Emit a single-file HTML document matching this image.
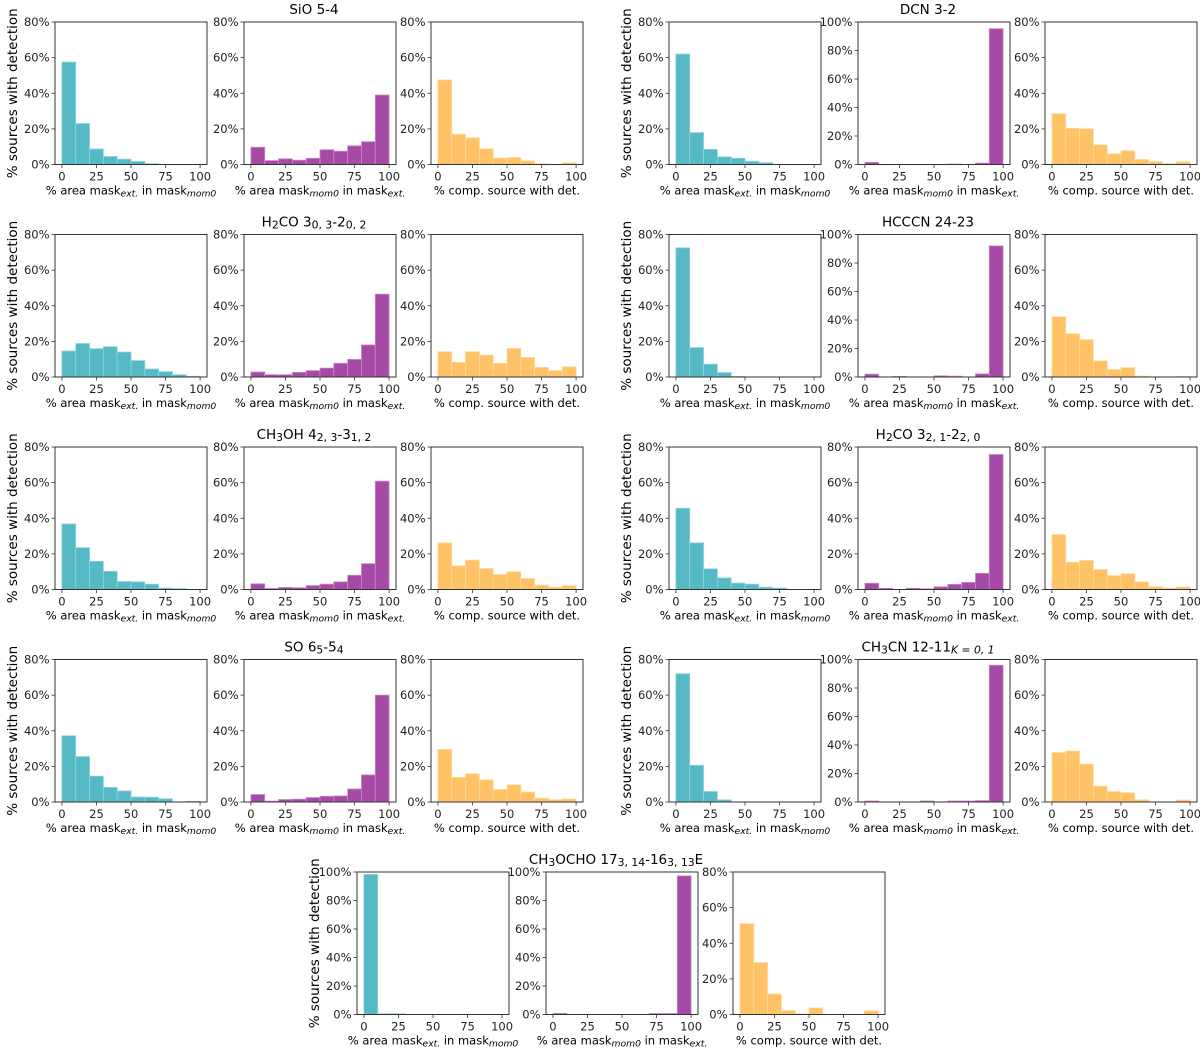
<!DOCTYPE html>
<html><head><meta charset="utf-8">
<style>
html,body{margin:0;padding:0;background:#fff;}
svg{display:block;font-family:"DejaVu Sans","Liberation Sans",sans-serif;}
</style></head>
<body>
<svg id="fig" width="1200" height="1048" viewBox="0 0 1200 1048" xmlns="http://www.w3.org/2000/svg"></svg>
<script>
// ---- data ----
const titles = [
  [["SiO 5-4",0]],
  [["DCN 3-2",0]],
  [["H",0],["2",1],["CO 3",0],["0, 3",1],["-2",0],["0, 2",1]],
  [["HCCCN 24-23",0]],
  [["CH",0],["3",1],["OH 4",0],["2, 3",1],["-3",0],["1, 2",1]],
  [["H",0],["2",1],["CO 3",0],["2, 1",1],["-2",0],["2, 0",1]],
  [["SO 6",0],["5",1],["-5",0],["4",1]],
  [["CH",0],["3",1],["CN 12-11",0],["K = 0, 1",2]],
  [["CH",0],["3",1],["OCHO 17",0],["3, 14",1],["-16",0],["3, 13",1],["E",0]]
];
const cyanValues = [
  [57.5,23,8.7,4.5,3,1.7,0.5,0,0,0],
  [62,17.9,8.5,4.3,3.5,1.8,1,0,0,0],
  [14.6,18.8,15.9,17,14,9.2,4.5,3,1.3,0.4],
  [72.5,16.5,7.2,2.5,0.3,0,0,0,0,0],
  [36.8,23.5,15.8,10.2,4.5,4.3,3,0.8,0.5,0],
  [45.6,26.2,11.6,6.5,3.6,3,1.3,0.8,0,0],
  [37.2,25.5,14.5,8.2,6.2,2.8,2.7,1.8,0,0.4],
  [72,20.6,5.9,1.2,0,0,0,0,0,0],
  [98.3,0.5,0.5,0,0,0,0,0,0,0]
];
const magentaValues = [
  [9.7,2.2,3.2,2.4,3.5,8.3,7.5,10.5,12.8,39],
  [1.5,0,0,0,0,0,0.3,0,1,95.3],
  [2.8,1.3,1.3,2.6,3.6,5,7.7,9.9,18,46.5],
  [2,0,0.4,0,0,0.8,0.6,0,2.2,92],
  [3.2,0.6,1.2,1,2.2,3,4.3,8,14.5,60.8],
  [3.5,0.7,0,0.7,0.4,1.5,2.9,4,9.1,75.8],
  [4.2,0.5,1.4,1.6,2.5,3.2,3.4,7.3,15.2,60],
  [0.7,0,0,0,0.7,0,0.7,0.7,1,96],
  [0.8,0,0,0,0,0,0,0.7,0.7,97.3]
];
const orangeValues = [
  [47.5,17,15,8.8,3.6,3.9,2,0.4,0,1],
  [28.5,20.3,20,11,6,7.7,2.8,1.6,0.5,1.5],
  [14.2,8.2,14.2,12.3,7.7,16,11,5.4,3.6,5.7],
  [33.8,24.3,21,9,4.2,5.3,0.5,0,0,0.3],
  [26.2,13.3,16.5,11.8,8.4,10,6.2,2.4,1.3,2.2],
  [30.8,15.3,16.3,11.2,7.8,8.8,4.3,1.5,0.8,1.4],
  [29.5,13.8,15.8,12.4,7,9.6,5.6,2.1,1.3,1.7],
  [27.7,28.6,21.3,8.9,5.8,5.2,1.2,0,0,1.1],
  [51,29.2,11.5,2.2,0.4,3.7,0,0,0,2]
];
const yMaxA = [80,80,80,80,80,80,80,80,100];
const yMaxB = [80,100,80,100,80,80,80,100,100];
const yMaxC = [80,80,80,80,80,80,80,80,80];
const binEdges = [0,10,20,30,40,50,60,70,80,90,100];
const xTicks = [0,25,50,75,100];

// ---- layout ----
const NS = "http://www.w3.org/2000/svg";
const svg = document.getElementById('fig');
const W = 152, H = 142.5;
const groupLefts = [];
for (let r = 0; r < 4; r++) { groupLefts.push([55, 22 + r*212.5]); groupLefts.push([669, 22 + r*212.5]); }
groupLefts.push([357, 872]);
const panelOffsets = [0, 189, 376];
const colors = ["#56b9c6", "#a54ba5", "#ffc266"];
const edgeColors = ["#8fd3dc", "#c88bc8", "#ffd999"];

function mk(tag, attrs, parent) {
  const e = document.createElementNS(NS, tag);
  for (const k in attrs) e.setAttribute(k, attrs[k]);
  (parent || svg).appendChild(e);
  return e;
}
function addSegs(t, segs, size) {
  segs.forEach(s => {
    const ts = mk('tspan', {}, t);
    ts.textContent = s[0];
    if (s[1]) {
      ts.setAttribute('font-size', size * 0.8);
      ts.setAttribute('baseline-shift', '-22%');
      if (s[1] === 2) ts.setAttribute('font-style', 'italic');
    }
  });
}
const xLabels = [
  [["% area mask",0],["ext.",2],["  in mask",0],["mom0",2]],
  [["% area mask",0],["mom0",2],[" in  mask",0],["ext.",2]],
  [["% comp. source with det.",0]]
];
const panelNames = ["mask-ext-in-mom0", "mask-mom0-in-ext", "comp-source"];

for (let g = 0; g < 9; g++) {
  const [gx, gy] = groupLefts[g];
  const grp = mk('g', {});
  
  
  const title = mk('text', {x: gx + 189 + W/2 - 6, y: gy - 8, 'text-anchor': 'middle', 'font-size': 13.5, fill: '#000'}, grp);
  
  
  addSegs(title, titles[g], 13.5);
  const yl = mk('text', {x: 0, y: 0, 'text-anchor': 'middle', 'font-size': 13.5, fill: '#000',
    transform: `translate(${gx - 38},${gy + H/2}) rotate(-90)`}, grp);
  yl.textContent = '% sources with detection';
  
  

  const series = [cyanValues[g], magentaValues[g], orangeValues[g]];
  const ymaxes = [yMaxA[g], yMaxB[g], yMaxC[g]];
  for (let p = 0; p < 3; p++) {
    const L = gx + panelOffsets[p], T = gy, B = gy + H;
    const ymax = ymaxes[p];
    const xs = v => L + (v + 5) / 110 * W;
    const ys = v => B - v / ymax * H;
    const pg = mk('g', {}, grp);
    
    
    series[p].forEach((v, i) => {
      if (v <= 0) return;
      const x0 = xs(binEdges[i]), x1 = xs(binEdges[i+1]);
      const r = mk('rect', {x: x0, y: ys(v), width: x1 - x0, height: B - ys(v), fill: colors[p], stroke: edgeColors[p], 'stroke-width': 0.8}, pg);
      
      
    });
    const fr = mk('rect', {x: L, y: T, width: W, height: H, fill: 'none', stroke: '#333', 'stroke-width': 1}, pg);
    
    
    for (let v = 0; v <= ymax; v += 20) {
      const y = ys(v);
      mk('line', {x1: L - 3.5, x2: L, y1: y, y2: y, stroke: '#333', 'stroke-width': 0.8}, pg);
      const t = mk('text', {x: L - 5.5, y: y + 4, 'text-anchor': 'end', 'font-size': 11.5, fill: '#222'}, pg);
      t.textContent = v + '%';
      
      
    }
    xTicks.forEach(v => {
      const x = xs(v);
      mk('line', {x1: x, x2: x, y1: B, y2: B + 3.5, stroke: '#333', 'stroke-width': 0.8}, pg);
      const t = mk('text', {x: x, y: B + 16, 'text-anchor': 'middle', 'font-size': 11.5, fill: '#222'}, pg);
      t.textContent = v;
      
      
    });
    const xl = mk('text', {x: L + W/2, y: B + 30, 'text-anchor': 'middle', 'font-size': 11.5, fill: '#000', 'xml:space': 'preserve'}, pg);
    
    
    addSegs(xl, xLabels[p], 11.5);
  }
}
</script>
</body></html>
